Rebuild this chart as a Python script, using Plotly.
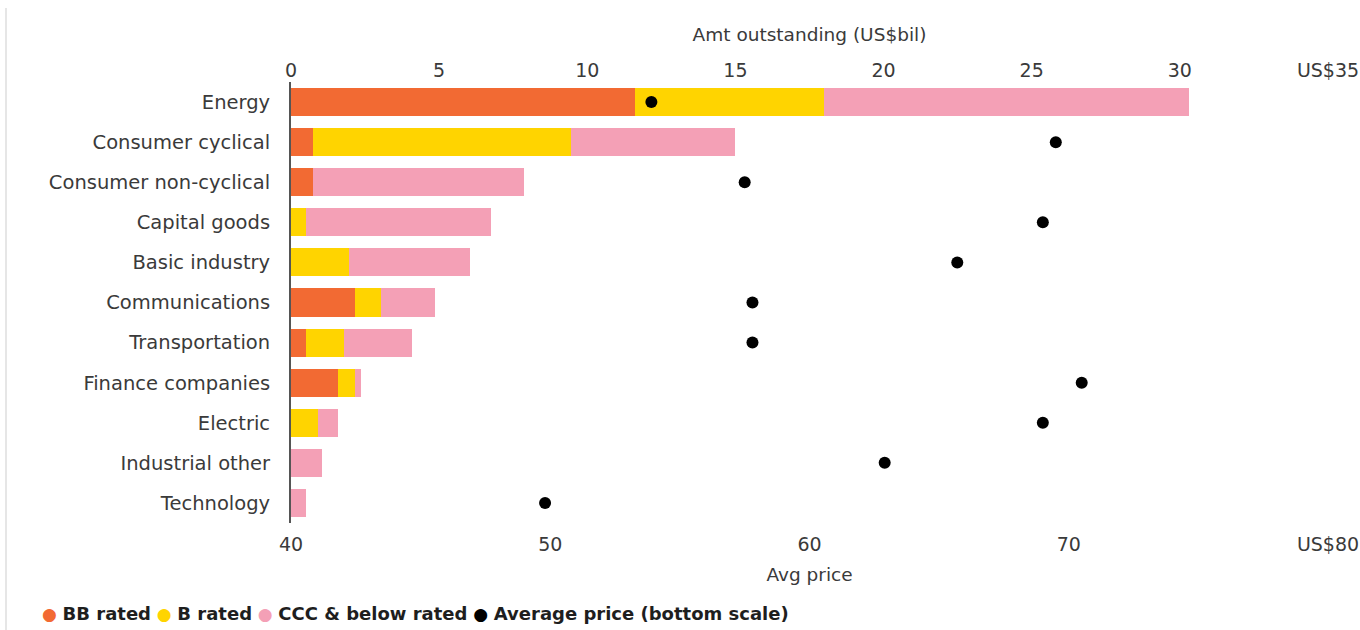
import plotly.graph_objects as go

# Sectors, top to bottom
sectors = [
    "Energy", "Consumer cyclical", "Consumer non-cyclical", "Capital goods",
    "Basic industry", "Communications", "Transportation", "Finance companies",
    "Electric", "Industrial other", "Technology",
]

# Amount outstanding by rating bucket (US$ bil)
bb_rated = [11.6, 0.75, 0.75, 0.0, 0.0, 2.15, 0.5, 1.6, 0.0, 0.0, 0.0]
b_rated = [6.4, 8.7, 0.0, 0.5, 1.95, 0.9, 1.3, 0.55, 0.9, 0.0, 0.0]
ccc_rated = [12.3, 5.55, 7.1, 6.25, 4.1, 1.8, 2.3, 0.2, 0.7, 1.05, 0.5]

# Average price (bottom scale, US$)
avg_price = [53.9, 69.5, 57.5, 69.0, 65.7, 57.8, 57.8, 70.5, 69.0, 62.9, 49.8]

top_ticks = [0, 5, 10, 15, 20, 25, 30, 35]
top_ticktext = ["0", "5", "10", "15", "20", "25", "30", "US$35"]
bottom_ticks = [40, 50, 60, 70, 80]
bottom_ticktext = ["40", "50", "60", "70", "US$80"]

series_names = ["BB rated", "B rated", "CCC & below rated", "Average price (bottom scale)"]
series_colors = ["#F26A33", "#FFD400", "#F4A0B6", "#000000"]

FONT = "DejaVu Sans"
TEXT = "#3a3a3a"

PLOT_L, PLOT_R, PLOT_T, PLOT_B = 291, 1328, 82, 523
PW, PH = PLOT_R - PLOT_L, PLOT_B - PLOT_T

fig = go.Figure()
for vals, name, color in zip([bb_rated, b_rated, ccc_rated], series_names[:3], series_colors[:3]):
    fig.add_trace(go.Bar(
        y=sectors, x=vals, name=name, orientation="h",
        marker=dict(color=color, line=dict(width=0)),
        xaxis="x", yaxis="y", showlegend=False,
    ))

# Price dots sit on the overlaid bottom axis so they draw above the bars
fig.add_trace(go.Scatter(
    y=sectors, x=avg_price, name=series_names[3], mode="markers",
    marker=dict(color=series_colors[3], size=12),
    xaxis="x2", yaxis="y", showlegend=False,
))

# Legend row drawn as one line of text with coloured bullets
legend_html = " ".join(
    f"<span style='color:{c};font-size:17px'>●</span> <b>{n}</b>"
    for n, c in zip(series_names, series_colors)
)
fig.add_annotation(
    text=legend_html, xref="paper", yref="paper",
    x=(40 - PLOT_L) / PW, y=-(613 - PLOT_B) / PH,
    xanchor="left", yanchor="middle", showarrow=False,
    font=dict(family=FONT, size=18, color="#1e1e1e"),
)

# thin frame line down the left edge
fig.add_shape(
    type="line", xref="paper", yref="paper",
    x0=(6 - PLOT_L) / PW, x1=(6 - PLOT_L) / PW,
    y0=(PLOT_B - 8) / PH, y1=-(630 - PLOT_B) / PH,
    line=dict(color="#e6e6e6", width=2),
)

fig.update_layout(
    width=1360, height=630,
    margin=dict(l=PLOT_L, r=1360 - PLOT_R, t=PLOT_T, b=630 - PLOT_B, autoexpand=False),
    paper_bgcolor="white", plot_bgcolor="white",
    barmode="stack", bargap=0.3,
    font=dict(family=FONT, size=18, color=TEXT),
    xaxis=dict(
        range=[0, 35], tickvals=top_ticks, ticktext=top_ticktext,
        side="top", anchor="y", automargin=False,
        showgrid=False, zeroline=False, showline=False, ticks="",
        ticklabelstandoff=0, tickfont=dict(size=19),
        title=dict(text="Amt outstanding (US$bil)", standoff=12, font=dict(size=18.5)),
        fixedrange=True,
    ),
    xaxis2=dict(
        range=[40, 80], tickvals=bottom_ticks, ticktext=bottom_ticktext,
        overlaying="x", side="bottom", anchor="y", automargin=False,
        showgrid=False, zeroline=False, showline=False, ticks="",
        ticklabelstandoff=8, tickfont=dict(size=19),
        title=dict(text="Avg price", standoff=14, font=dict(size=18.5)),
        fixedrange=True,
    ),
    yaxis=dict(
        categoryorder="array", categoryarray=sectors, range=[10.5, -0.5],
        automargin=False,
        showgrid=False, zeroline=False, showline=True, linecolor="#555555",
        linewidth=2, ticks="", ticklabelstandoff=15,
        tickfont=dict(size=19.5),
        fixedrange=True,
    ),
)

fig.write_html("out.html")
